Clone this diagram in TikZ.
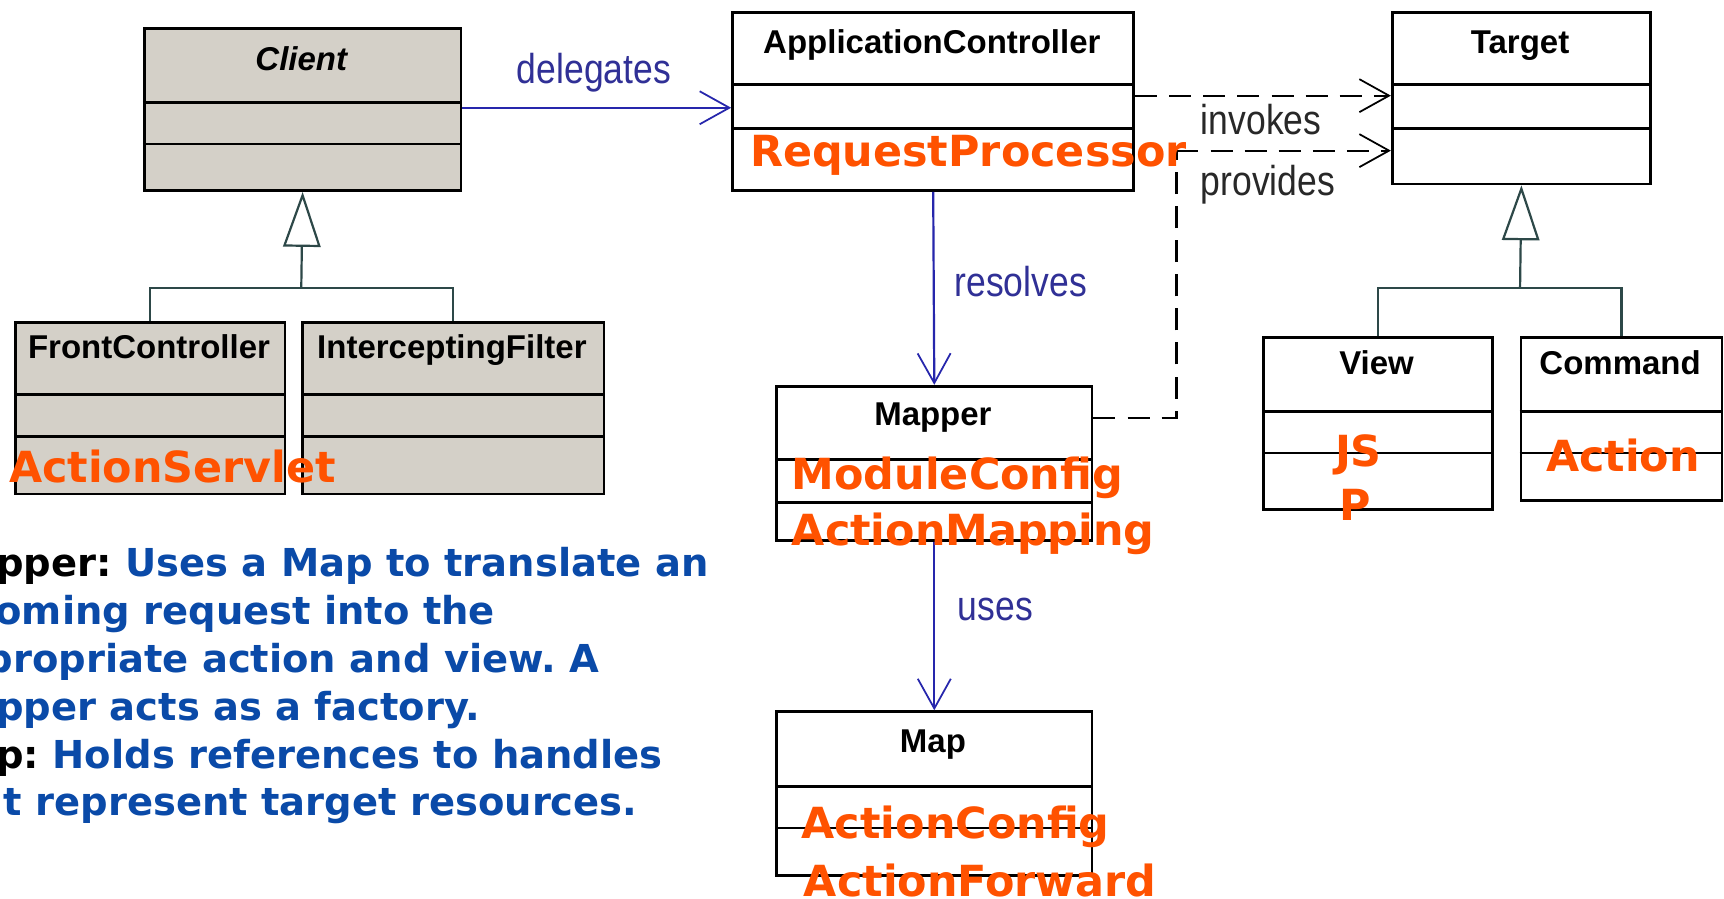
\documentclass[tikz,border=0pt]{standalone}
\usepackage{fontspec}
\setmainfont{Liberation Sans}
\newfontfamily\hl{DejaVu Sans}
\newfontfamily\lblfont[FakeStretch=0.85]{Liberation Sans}
\usetikzlibrary{arrows.meta}
\frenchspacing
\definecolor{boxgray}{RGB}{212,208,200}
\definecolor{conblue}{RGB}{38,38,172}
\definecolor{lblblue}{RGB}{48,48,150}
\definecolor{genline}{RGB}{45,72,72}
\definecolor{orng}{RGB}{255,82,0}
\definecolor{txtblue}{RGB}{10,74,168}
\definecolor{lblgray}{RGB}{40,40,40}
\tikzset{
  cls/.style={draw=black, line width=2.5pt, inner sep=0pt, anchor=north west},
  sepline/.style={draw=black, line width=2.5pt},
  ttl/.style={anchor=base, inner sep=0pt, font=\fontsize{30}{34}\selectfont\bfseries},
  lbl/.style={anchor=base west, inner sep=0pt, font=\lblfont\fontsize{38}{40}\selectfont},
  orange/.style={anchor=base west, inner sep=0pt, text=orng, font=\hl\bfseries\fontsize{39}{44}\selectfont},
  note/.style={anchor=base west, inner sep=0pt, text=txtblue, font=\hl\bfseries\frenchspacing\fontsize{35}{42}\selectfont},
  barb/.style={-{Straight Barb[length=27pt,width=30pt,line width=1.6pt]}},
  assoc/.style={draw=conblue, line width=2pt, barb},
  dep/.style={draw=black, line width=2pt, dash pattern=on 20pt off 11pt, barb},
  depline/.style={draw=black, line width=2pt, dash pattern=on 20pt off 11pt},
  gen/.style={draw=genline, line width=2pt},
  genarrow/.style={draw=genline, line width=2pt, -{Triangle[open,length=50pt,width=34pt,line width=2pt]}}
}
\newcommand\UMLclass[8]{%
  \node[cls, fill=#8, minimum width={(#4-#2)*1pt}, minimum height={(#5-#3)*1pt}] (#1) at (#2,#3) {};
  \draw[sepline] (#1.west |- 0,#6) -- (#1.east |- 0,#6);
  \draw[sepline] (#1.west |- 0,#7) -- (#1.east |- 0,#7);
}
\begin{document}
\begin{tikzpicture}[x=1pt,y=-1pt]
\useasboundingbox (0,0) rectangle (1568,817);
\fill[white] (0,0) rectangle (1568,817);
\clip (0,0) rectangle (1568,817);

% classes
\UMLclass{client}{130}{25}{418}{172}{93}{131}{boxgray}
\UMLclass{fc}{13}{292}{258}{448}{359}{397}{boxgray}
\UMLclass{if}{274}{292}{548}{448}{359}{397}{boxgray}
\UMLclass{appctrl}{665}{10}{1030}{172}{77}{117}{white}
\UMLclass{target}{1265}{10}{1500}{166}{77}{117}{white}
\UMLclass{view}{1148}{306}{1356}{462}{374}{412}{white}
\UMLclass{command}{1382}{306}{1565}{454}{374}{412}{white}
\UMLclass{mapper}{705}{350}{992}{490}{418}{457}{white}
\UMLclass{map}{705}{646}{992}{795}{715}{753}{white}

% titles
\node[ttl] (client-t) at (274,64) {\itshape Client};
\node[ttl] (fc-t) at (135.5,326) {FrontController};
\node[ttl] (if-t) at (411,326) {InterceptingFilter};
\node[ttl] (appctrl-t) at (847.5,49) {ApplicationController};
\node[ttl] (target-t) at (1382.5,49) {Target};
\node[ttl] (view-t) at (1252,341) {View};
\node[ttl] (command-t) at (1473.5,341) {Command};
\node[ttl] (mapper-t) at (848.5,387) {Mapper};
\node[ttl] (map-t) at (848.5,684) {Map};

% generalizations
\coordinate (cj) at (274,262);
\draw[gen] (fc.north) |- (cj) -| (if.north);
\draw[genarrow] (cj) -- (client.south);
\coordinate (tj) at (1382.5,262);
\draw[gen] (view.north) |- (tj) -| (command.north);
\draw[genarrow] (tj) -- (target.south);

% associations
\draw[assoc] (client.east |- 0,98) -- (appctrl.west |- 0,98);
\node[lbl, text=lblblue] (lbl-del) at (470,76) {delegates};
\draw[assoc] (appctrl.south) -- (mapper.north);
\node[lbl, text=lblblue] (lbl-res) at (868,270) {resolves};
\draw[assoc] (mapper.south) -- (map.north);
\node[lbl, text=lblblue] (lbl-uses) at (871,564) {uses};

% dependencies
\draw[dep] (appctrl.east |- 0,87) -- (target.west |- 0,87);
\node[lbl, text=lblgray] (lbl-inv) at (1092,122) {invokes};
\coordinate (pv1) at (1070,380);
\coordinate (pv2) at (1070,137);
\draw[depline] (mapper.east |- pv1) -- (pv1) -- (pv2);
\draw[dep] (pv2) -- (target.west |- pv2);
\node[lbl, text=lblgray] (lbl-prov) at (1092,178) {provides};

% orange overlays
\node[orange] (o-as) at (8,439) {ActionServlet};
\node[orange] (o-rp) at (682,151) {RequestProcessor};
\node[orange] (o-mc) at (720,445) {ModuleConfig};
\node[orange] (o-am) at (720,496) {ActionMapping};
\node[orange] (o-js) at (1214,424) {JS};
\node[orange] (o-p) at (1218,473) {P};
\node[orange] (o-act) at (1406,429) {Action};
\node[orange] (o-ac) at (729,763) {ActionConfig};
\node[orange] (o-af) at (731,815) {ActionForward};

% note text
\node[note] (n1) at (-62,524) {{\color{black}Mapper:} Uses a Map to translate an};
\node[note] (n2) at (-62,568) {incoming request into the};
\node[note] (n3) at (-62,612) {appropriate action and view. A};
\node[note] (n4) at (-62,655) {Mapper acts as a factory.};
\node[note] (n5) at (-62,699) {{\color{black}Map:} Holds references to handles};
\node[note] (n6) at (-62,742) {that represent target resources.};
\end{tikzpicture}
\end{document}
